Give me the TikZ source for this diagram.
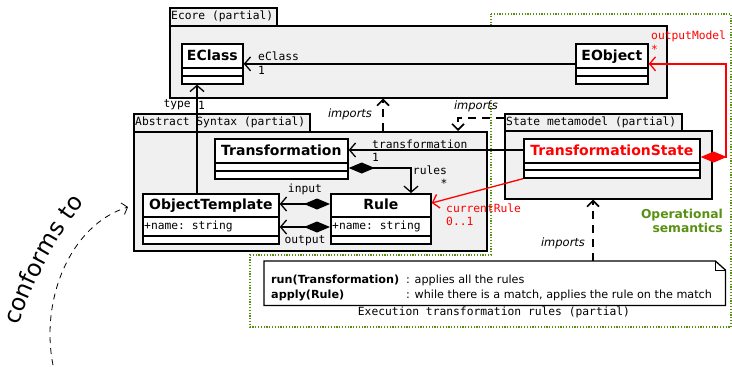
\documentclass[tikz,border=0pt]{standalone}
\usepackage{fontspec}
\setmainfont{DejaVu Sans}
\setmonofont{DejaVu Sans Mono}
\usetikzlibrary{arrows.meta,calc,decorations.text}

\definecolor{pkgfill}{HTML}{F0F0F0}
\definecolor{semgreen}{RGB}{88,145,18}
\definecolor{umlred}{RGB}{255,0,0}

\newcommand\monosz{\fontsize{11.3}{13}\selectfont\ttfamily}

% UML class: name, x, y (north west), width, heights of the three compartments, title, attribute
\newcommand\umlclass[9]{%
  \node[clsbox, minimum width=#4, minimum height=#5+#6+#7] (#1) at (#2,#3) {};
  \draw[clsline] ($(#1.north west)+(0,#5)$) -- ($(#1.north east)+(0,#5)$);
  \draw[clsline] ($(#1.north west)+(0,#5+#6)$) -- ($(#1.north east)+(0,#5+#6)$);
  \node[clstitle] (#1-name) at ($(#1.north)+(0,#5/2)$) {#8};
  \node[clsattr] (#1-attr) at ($(#1.north west)+(2,#5+#6/2)$) {#9};
}

\begin{document}
\begin{tikzpicture}[x=1pt, y=-1pt,
  pkg/.style={draw, line width=1.5pt, fill=pkgfill, inner sep=0pt, anchor=north west},
  tablabel/.style={font=\monosz, inner sep=0pt, anchor=west},
  clsbox/.style={draw, line width=1.7pt, fill=white, inner sep=0pt, anchor=north west},
  clsline/.style={line width=1.7pt},
  clstitle/.style={font=\fontsize{14}{16}\selectfont\bfseries, inner sep=0pt, text height=10pt, text depth=1pt},
  clsattr/.style={font=\monosz, inner sep=0pt, anchor=west},
  assoc/.style={line width=1.3pt, -{Straight Barb[length=6pt,width=14pt]}},
  comp/.style={line width=1.3pt, {Diamond[length=26pt,width=11pt]}-{Straight Barb[length=6pt,width=14pt]}},
  imports/.style={line width=1.6pt, dash pattern=on 8pt off 6pt, -{Straight Barb[length=6pt,width=12pt]}},
  rolelabel/.style={font=\monosz, inner sep=0pt},
  implabel/.style={font=\fontsize{11.5}{13}\selectfont\itshape, inner sep=0pt},
  notetext/.style={font=\fontsize{11.2}{13}\selectfont, inner sep=0pt, anchor=base west},
]
\useasboundingbox (0,0) rectangle (732,367);

% operational semantics region
\draw[semgreen, line width=1.2pt, dash pattern=on 1.2pt off 1.6pt]
  (491,14) -- (731,14) -- (731,327) -- (250,327) -- (250,255) -- (491,255) -- cycle;

% packages
\node[pkg, minimum width=497, minimum height=72] (ecore) at (169,25) {};
\node[pkg, minimum width=107, minimum height=18] (ecoretab) at (169,7) {};
\node[tablabel] at ($(ecoretab.west)+(2,0)$) {Ecore (partial)};

\node[pkg, minimum width=353, minimum height=119] (asbody) at (133,131) {};
\node[pkg, minimum width=176, minimum height=18] (astab) at (133,113) {};
\node[tablabel] at ($(astab.west)+(2,0)$) {Abstract Syntax (partial)};

\node[pkg, minimum width=207, minimum height=68] (stbody) at (504,130) {};
\node[pkg, minimum width=177, minimum height=17] (sttab) at (504,113) {};
\node[tablabel] at ($(sttab.west)+(2,0)$) {State metamodel (partial)};

% classes
\umlclass{ecls}{181}{43}{61}{25}{8}{7}{EClass}{}
\umlclass{eobj}{575}{43}{72}{25}{8}{7}{EObject}{}
\umlclass{trans}{214}{138}{133}{25}{8}{7}{Transformation}{}
\umlclass{objt}{142}{193}{136}{24}{19}{7}{ObjectTemplate}{+name: string}
\umlclass{rule}{330}{193}{100}{24}{19}{7}{Rule}{+name: string}
\umlclass{ts}{523}{138}{176}{25}{7}{7}{\color{umlred}TransformationState}{}

% eClass
\draw[assoc] (eobj.west) -- (ecls.east);
\node[rolelabel, anchor=west] at (258,56) {eClass};
\node[rolelabel, anchor=west] at (258,70) {1};

% type
\coordinate (typeX) at (197,0);
\draw[assoc] (objt.north -| typeX) -- (ecls.south -| typeX);
\node[rolelabel, anchor=east] at (191,105) {type};
\node[rolelabel, anchor=west] at (198,105) {1};

% rules
\coordinate (rulesBend) at (411,168);
\draw[comp] (trans.east |- rulesBend) -| (rule.north -| rulesBend);
\node[rolelabel] at (430,170) {rules};
\node[rolelabel] at (444,183) {*};

% input / output
\coordinate (inY) at (0,204);
\coordinate (outY) at (0,227);
\draw[comp] (rule.west |- inY) -- (objt.east |- inY);
\draw[comp] (rule.west |- outY) -- (objt.east |- outY);
\node[rolelabel] at (305,189) {input};
\node[rolelabel] at (305,241) {output};

% transformation
\coordinate (trY) at (0,150);
\draw[assoc] (ts.west |- trY) -- (trans.east |- trY);
\node[rolelabel, anchor=west] at (372,144) {transformation};
\node[rolelabel, anchor=west] at (372,157) {1};

% outputModel
\coordinate (omCorner) at (726,157);
\draw[comp, umlred] (ts.east |- omCorner) -- (omCorner) |- (eobj.east);
\node[rolelabel, anchor=west, text=umlred] at (651,36) {outputModel};
\node[rolelabel, anchor=west, text=umlred] at (651,49) {*};

% currentRule
\coordinate (crY) at (0,203);
\draw[assoc, umlred] (ts.south west) -- (rule.east |- crY);
\node[rolelabel, anchor=west, text=umlred] at (446,208) {currentRule};
\node[rolelabel, anchor=west, text=umlred] at (446,221) {0..1};

% note with the execution rules
\node[inner sep=0pt, minimum width=461, minimum height=44, anchor=north west] (note) at (264,261) {};
\draw[line width=1.3pt, fill=white] (note.north west) -- ($(note.north east)+(-10,0)$)
  -- ($(note.north east)+(0,9)$) -- (note.south east) -- (note.south west) -- cycle;
\draw[line width=0.8pt] ($(note.north east)+(-10,0)$) -- ($(note.north east)+(-10,9)$) -- ($(note.north east)+(0,9)$);
\node[notetext, font=\fontsize{11.2}{13}\selectfont\bfseries] at (271,283) {run(Transformation)};
\node[notetext] at (406,283) {: applies all the rules};
\node[notetext, font=\fontsize{11.2}{13}\selectfont\bfseries] at (271,298) {apply(Rule)};
\node[notetext] at (406,298) {: while there is a match, applies the rule on the match};
\node[font=\monosz, inner sep=0pt] at (494,312) {Execution transformation rules (partial)};

% imports
\coordinate (imp1X) at (383,0);
\draw[imports] (asbody.north -| imp1X) -- (ecore.south -| imp1X);
\node[implabel] at (350,114) {imports};

\coordinate (imp2) at (458,118);
\draw[imports] (sttab.west |- imp2) -| (asbody.north -| imp2);
\node[implabel] at (476,106) {imports};

\coordinate (imp3X) at (593,0);
\draw[imports] (note.north -| imp3X) -- (stbody.south -| imp3X);
\node[implabel] at (563,243) {imports};

% operational semantics caption
\node[font=\fontsize{12.3}{14}\selectfont\bfseries, text=semgreen, align=right, anchor=north east, inner sep=0pt]
  at (723,209) {Operational\\semantics};

% conforms to
\coordinate (confStart) at (53,365);
\coordinate (confTip) at (128,207);
\draw[line width=0.8pt, dash pattern=on 6pt off 5pt, -{Straight Barb[length=5pt,width=12pt]}]
  (confStart) .. controls (40,300) and (70,225) .. (confTip);
\path[decorate, decoration={text along path, text align=center,
  text={|\fontsize{23.5}{24}\selectfont|conforms to}}]
  (12,347) .. controls (24,302) and (53,234) .. (99,186);
\end{tikzpicture}
\end{document}
